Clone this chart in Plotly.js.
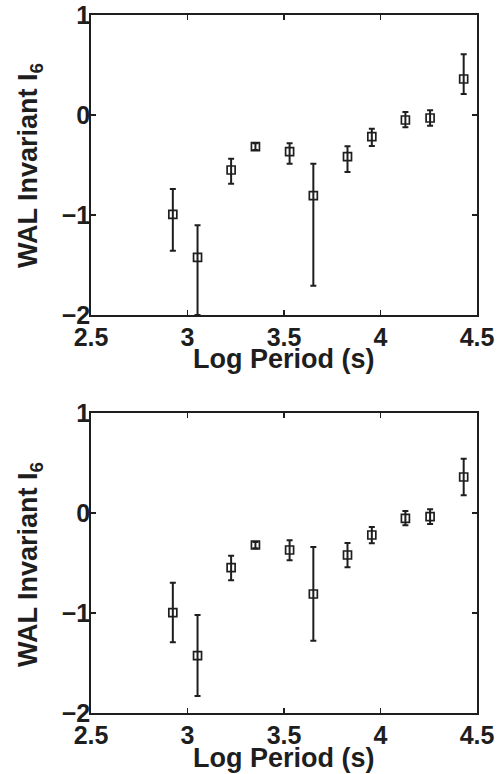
<!DOCTYPE html>
<html>
<head>
<meta charset="utf-8">
<script src="https://cdn.plot.ly/plotly-3.0.1.min.js"></script>
<style>html,body{margin:0;padding:0;background:#fff;}#chart{width:499px;height:774px;}</style>
</head>
<body>
<div id="chart"></div>
<script>
// Log period (s) for each point
var logPeriod = [2.924, 3.052, 3.226, 3.352, 3.529, 3.652, 3.829, 3.955, 4.129, 4.257, 4.431];

// Top panel: WAL invariant I6 with asymmetric error bars
var topValues   = [-0.993, -1.423, -0.550, -0.317, -0.367, -0.807, -0.417, -0.217, -0.050, -0.030, 0.360];
var topErrPlus  = [0.253, 0.320, 0.113, 0.034, 0.084, 0.320, 0.104, 0.080, 0.080, 0.077, 0.247];
var topErrMinus = [0.364, 0.577, 0.137, 0.033, 0.120, 0.900, 0.153, 0.093, 0.073, 0.077, 0.150];

// Bottom panel
var botValues   = [-0.997, -1.427, -0.547, -0.320, -0.370, -0.810, -0.420, -0.220, -0.053, -0.037, 0.360];
var botErrPlus  = [0.300, 0.407, 0.120, 0.030, 0.097, 0.470, 0.120, 0.080, 0.073, 0.074, 0.183];
var botErrMinus = [0.296, 0.403, 0.126, 0.033, 0.103, 0.467, 0.123, 0.083, 0.070, 0.073, 0.183];

var xTickVals = [2.5, 3, 3.5, 4, 4.5];
var yTickVals = [-2, -1, 0, 1];
var xTitle = "Log Period (s)";
var yTitle = "WAL Invariant I<sub>6</sub>";

var ink = "#1e1e1e";
var fontFam = "Liberation Sans, Arial, Helvetica, sans-serif";

function trace(vals, plus, minus, xa, ya) {
  return {
    x: logPeriod, y: vals, xaxis: xa, yaxis: ya,
    type: "scatter", mode: "markers",
    marker: {symbol: "square-open", size: 8, color: ink, line: {width: 1.7, color: ink}},
    error_y: {type: "data", symmetric: false, array: plus, arrayminus: minus,
              color: ink, thickness: 2, width: 3},
    showlegend: false, hoverinfo: "skip"
  };
}

var data = [
  trace(topValues, topErrPlus, topErrMinus, "x", "y"),
  trace(botValues, botErrPlus, botErrMinus, "x2", "y2")
];

var W = 499, H = 774;
var plotL = 91, plotR = 477;
var tickFont = {family: fontFam, size: 25, color: ink, weight: "bold"};
function xAxis(anchor) {
  return {
    domain: [plotL / W, plotR / W], anchor: anchor, range: [2.5, 4.5],
    tickvals: xTickVals, ticks: "inside", ticklen: 5, tickwidth: 1.2, tickcolor: ink,
    showline: true, linecolor: ink, linewidth: 1.8, mirror: "allticks",
    showgrid: false, zeroline: false, ticklabelstandoff: -1,
    tickfont: tickFont
  };
}
function yAxis(anchor, top, bottom) {
  return {
    domain: [1 - bottom / H, 1 - top / H], anchor: anchor, range: [-2, 1],
    tickvals: yTickVals, ticks: "inside", ticklen: 5, tickwidth: 1.2, tickcolor: ink,
    showline: true, linecolor: ink, linewidth: 1.8, mirror: "allticks",
    showgrid: false, zeroline: false, ticklabelstandoff: -6,
    tickfont: tickFont
  };
}

var titleFont = {family: fontFam, size: 27, color: ink, weight: "bold"};
function ann(text, x, y, xanchor, yanchor, angle) {
  return {text: text, xref: "paper", yref: "paper", x: x, y: y, xanchor: xanchor, yanchor: yanchor,
          textangle: angle, showarrow: false, font: titleFont};
}
var cx = ((plotL + plotR) / 2) / W;

var layout = {
  width: W, height: H,
  margin: {l: 0, r: 0, t: 0, b: 0},
  paper_bgcolor: "#ffffff", plot_bgcolor: "#ffffff",
  xaxis: xAxis("y"),
  yaxis: yAxis("x", 15, 315),
  xaxis2: xAxis("y2"),
  yaxis2: yAxis("x2", 413, 713),
  annotations: [
    ann(xTitle, cx, 1 - 342 / H, "center", "top", 0),
    ann(yTitle, 30 / W, 1 - 166 / H, "center", "middle", -90),
    ann(xTitle, cx, 1 - 741 / H, "center", "top", 0),
    ann(yTitle, 30 / W, 1 - 565 / H, "center", "middle", -90)
  ]
};

Plotly.newPlot("chart", data, layout, {staticPlot: true, displayModeBar: false});
</script>
</body>
</html>
